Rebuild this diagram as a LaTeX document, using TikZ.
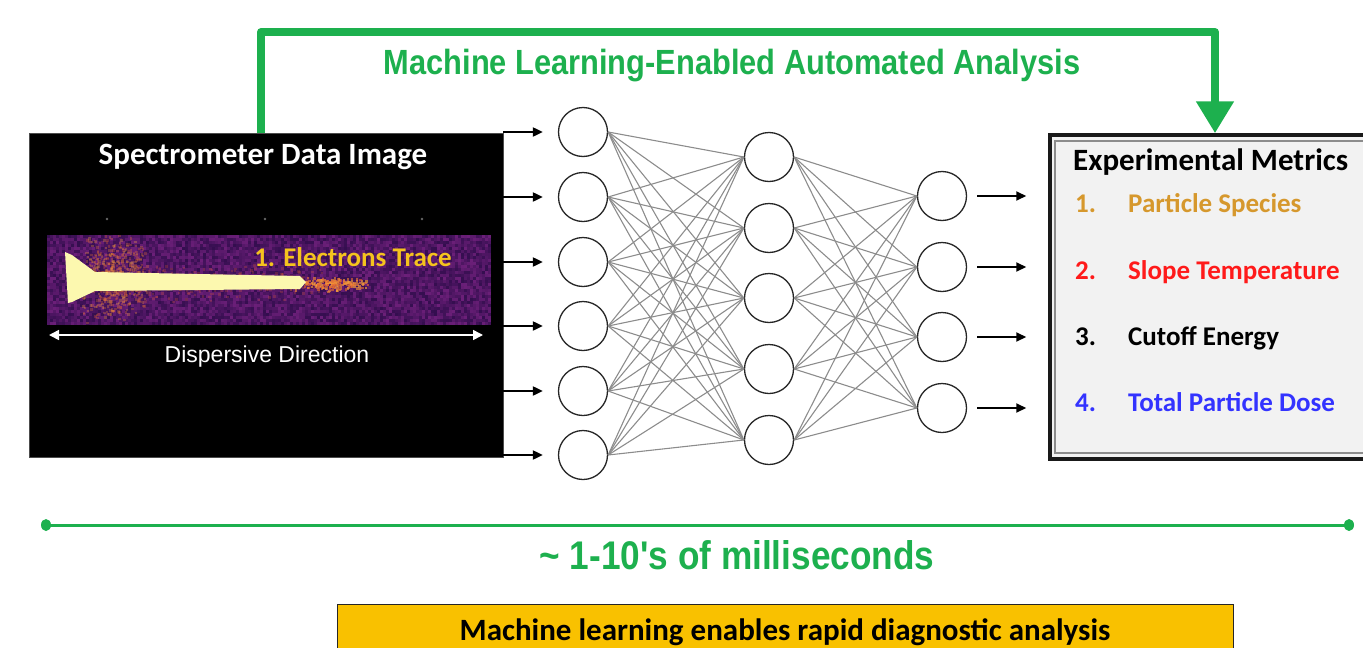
\documentclass[tikz,border=0pt]{standalone}
\usepackage{fontspec}
\setmainfont{Carlito}
\newfontfamily\arialfont{Liberation Sans}
\newfontfamily\narrowfont[FakeStretch=0.88]{Liberation Sans}
\usetikzlibrary{arrows.meta}
\definecolor{mlgreen}{RGB}{29,176,78}
\definecolor{spA}{RGB}{40,10,70}
\definecolor{spB}{RGB}{120,35,130}
\definecolor{glowA}{RGB}{220,90,50}
\definecolor{glowB}{RGB}{250,170,60}
\definecolor{traceY}{RGB}{252,248,175}
\definecolor{elecY}{RGB}{245,195,30}
\definecolor{itemA}{RGB}{214,152,45}
\definecolor{itemB}{RGB}{255,26,26}
\definecolor{itemD}{RGB}{51,51,255}
\definecolor{boxfill}{RGB}{242,242,242}
\definecolor{gold}{RGB}{249,193,0}
\tikzset{
  neuron/.style={circle, draw=black!85, line width=1.3pt, minimum size=49pt, inner sep=0pt, fill=white},
  conn/.style={draw=black!45, line width=1.1pt},
  blackarr/.style={-{Triangle[length=10pt,width=9pt]}, line width=2pt, black},
  cbold/.style={font=\bfseries\fontsize{31}{36}\selectfont},
  itemtxt/.style={font=\bfseries\fontsize{27}{32}\selectfont, anchor=base west, inner sep=0pt},
}
\begin{document}
\begin{tikzpicture}[x=1pt,y=-1pt]
\useasboundingbox (0,0) rectangle (1363,648);
% spectrometer panel
\node[fill=black, draw=black!70, line width=0.8pt, minimum width=474pt, minimum height=324pt, inner sep=0pt] (spec) at (266,295) {};
\begin{scope}
\clip (47,235) rectangle (491,324);
\pgfmathsetseed{7}
\fill[spA!50!spB] (47,235) rectangle (491,324);
\foreach \i in {0,...,147}{
  \foreach \j in {0,...,29}{
    \pgfmathsetmacro\p{int(random(15,85))}
    \fill[spB!\p!spA] ({47+\i*3},{235+\j*3}) rectangle ++(3,3);
  }}
\foreach \k in {1,...,600}{
  \pgfmathsetmacro\xx{112+20*(rand+rand)}
  \pgfmathsetmacro\yy{278+22*(rand+rand)}
  \pgfmathsetmacro\q{int(random(0,100))}
  \fill[glowB!\q!glowA, opacity=0.3] (\xx,\yy) rectangle ++(2.5,2.5);
}
\foreach \k in {1,...,300}{
  \pgfmathsetmacro\xx{93+230*rnd}
  \pgfmathsetmacro\yy{282+10*(rand+rand)}
  \fill[glowA, opacity=0.25] (\xx,\yy) rectangle ++(2.5,2.5);
}
\foreach \k in {1,...,180}{
  \pgfmathsetmacro\xx{330+22*(rand+rand)}
  \pgfmathsetmacro\yy{283+4*(rand+rand)}
  \pgfmathsetmacro\q{int(random(0,100))}
  \fill[glowB!\q!glowA, opacity=0.65] (\xx,\yy) rectangle ++(2.5,2.5);
}
\end{scope}
\fill[traceY] (65,252) -- (72,255) -- (95,272) -- (300,276) -- (306,282) -- (300,289) -- (95,291) -- (72,302) -- (68,303) -- cycle;
\foreach \xx in {107,265,422} \fill[black!60] (\xx,219) circle (1.3);
\node[cbold, text=white] (spectitle) at (263,157) {Spectrometer Data Image};
\node[font=\bfseries\fontsize{27}{32}\selectfont, text=elecY] (electrons) at (353,257) {1. Electrons Trace};
\coordinate (dl) at (49,335);
\coordinate (dr) at (483,335);
\draw[{Triangle[length=10pt,width=10pt]}-{Triangle[length=10pt,width=10pt]}, line width=1.6pt, white] (dl) -- (dr);
\node[font=\arialfont\fontsize{23}{27}\selectfont, text=white] (disp) at (267,357) {Dispersive Direction};
% network
\foreach \y [count=\i] in {132,197,262,326,391,455} \node[neuron] (a\i) at (583,\y) {};
\foreach \y [count=\i] in {157,228,298,369,440} \node[neuron] (b\i) at (769,\y) {};
\foreach \y [count=\i] in {196,267,337,408} \node[neuron] (c\i) at (942,\y) {};
\foreach \i in {1,...,6}{\foreach \j in {1,...,5}{\draw[conn] (a\i.east) -- (b\j.west);}}
\foreach \i in {1,...,5}{\foreach \j in {1,...,4}{\draw[conn] (b\i.east) -- (c\j.west);}}
% metrics box
\node[draw=black!90, line width=3.5pt, fill=boxfill, minimum width=330pt, minimum height=324pt, inner sep=0pt] (metrics) at (1215,297) {};
\draw[black!45, line width=1.2pt] (1055,141) rectangle (1390,453);
\node[cbold, anchor=base west, inner sep=0pt] (mtitle) at (1073,170) {Experimental Metrics};
\node[itemtxt, text=itemA] (n1) at (1075,212) {1.};
\node[itemtxt, text=itemA] (m1) at (1128,212) {Particle Species};
\node[itemtxt, text=itemB] (n2) at (1075,279) {2.};
\node[itemtxt, text=itemB] (m2) at (1128,279) {Slope Temperature};
\node[itemtxt, text=black] (n3) at (1075,345) {3.};
\node[itemtxt, text=black] (m3) at (1128,345) {Cutoff Energy};
\node[itemtxt, text=itemD] (n4) at (1075,411) {4.};
\node[itemtxt, text=itemD] (m4) at (1128,411) {Total Particle Dose};
% input and output arrows
\foreach \i in {1,...,6} \draw[blackarr, shorten >=15pt] (spec.east |- a\i.west) -- (a\i.west);
\foreach \i in {1,...,4} \draw[blackarr, shorten <=10pt, shorten >=22pt] (c\i.east) -- (metrics.west |- c\i.east);
% green loop arrow
\coordinate (gtop) at (740,32);
\draw[mlgreen, line width=8pt, line join=round, -{Triangle[length=32pt,width=36pt]}] ([xshift=-5pt]spec.north) |- (gtop) -| (metrics.north);
\node[font=\narrowfont\bfseries\fontsize{35}{40}\selectfont, text=mlgreen] (mltitle) at (732,66) {Machine Learning-Enabled Automated Analysis};
% timeline
\coordinate (t1) at (46,525);
\coordinate (t2) at (1349,525);
\draw[mlgreen, line width=3pt] (t1) -- (t2);
\fill[mlgreen] (t1) ellipse (5 and 6);
\fill[mlgreen] (t2) ellipse (5 and 6);
\node[font=\narrowfont\bfseries\fontsize{40}{46}\selectfont, text=mlgreen] (time) at (737,555) {\textasciitilde{} 1-10's of milliseconds};
% bottom box
\node[draw=black!85, line width=1pt, fill=gold, minimum width=896pt, minimum height=60pt, inner sep=0pt] (summary) at (785,634) {};
\node[cbold] (summarytxt) at (785,632) {Machine learning enables rapid diagnostic analysis};
\end{tikzpicture}
\end{document}
